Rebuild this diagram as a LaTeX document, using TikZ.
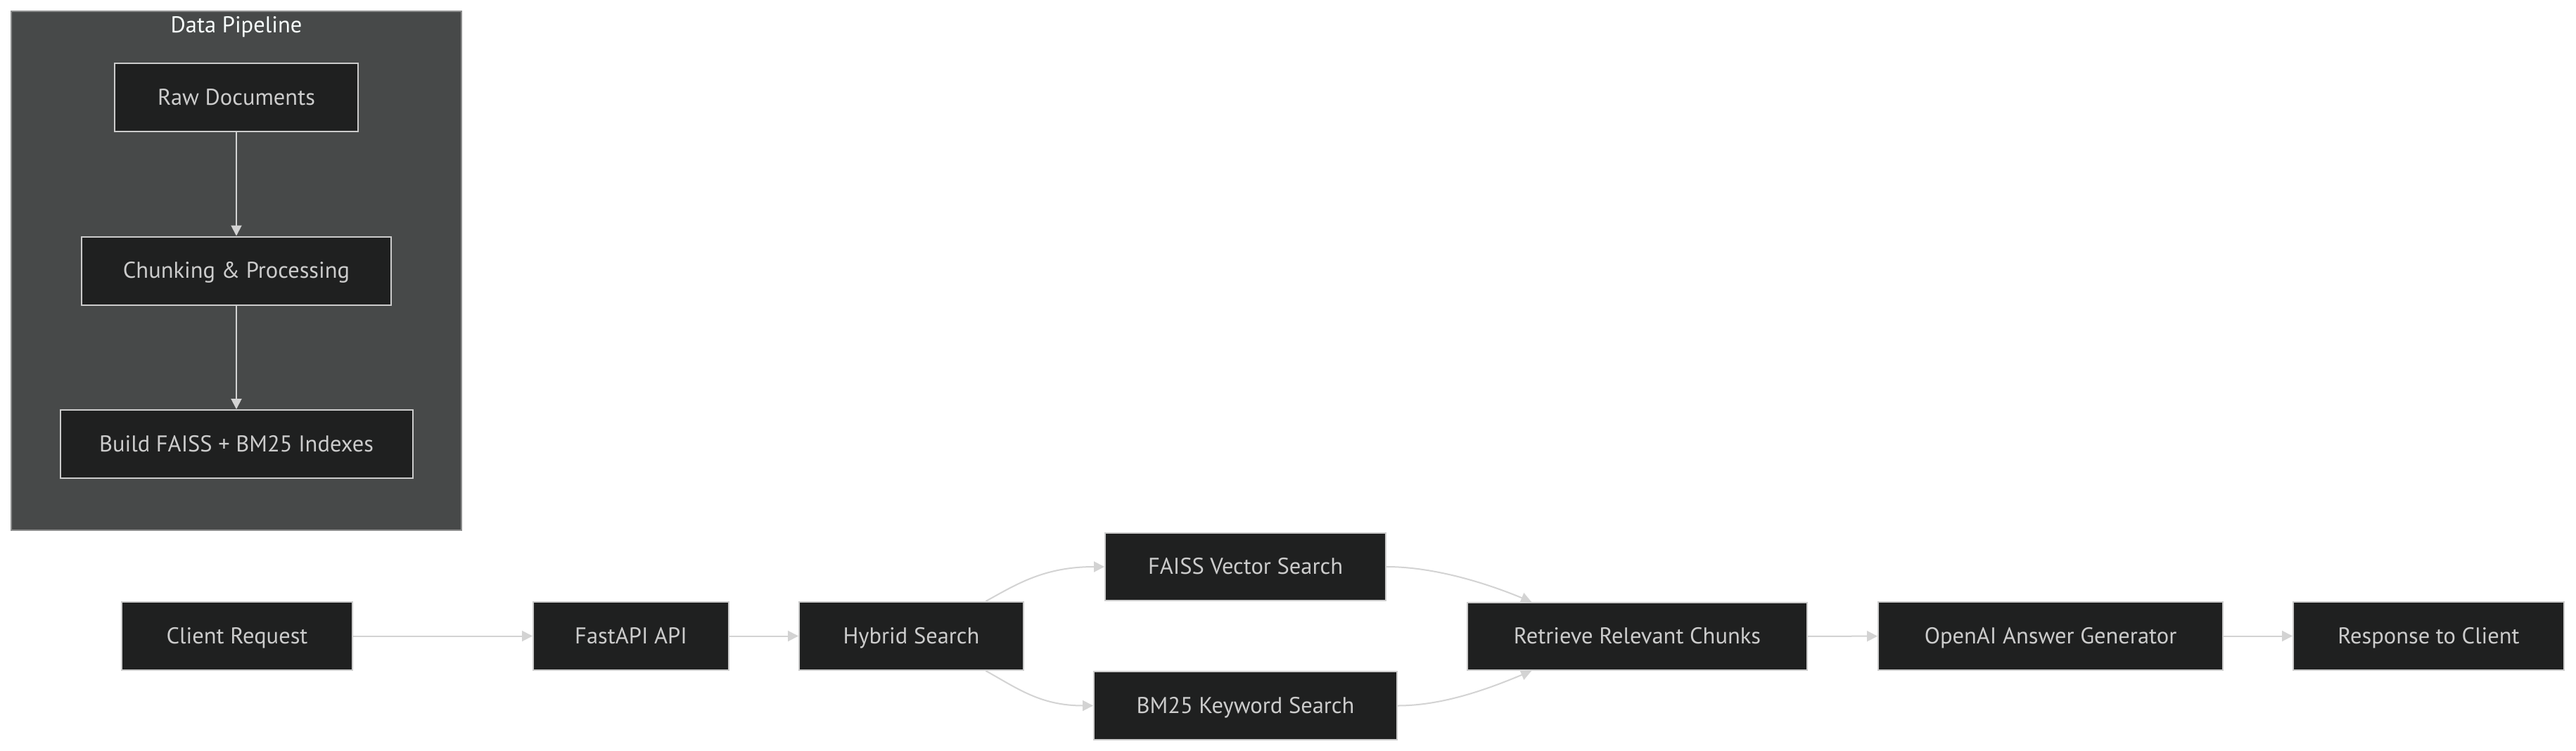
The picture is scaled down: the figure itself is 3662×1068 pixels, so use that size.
\documentclass[tikz,border=0pt]{standalone}
\usepackage{fontspec}
\setmainfont{PT Sans}
\usetikzlibrary{arrows.meta,calc}
\definecolor{nodefill}{HTML}{1F2020}
\definecolor{nodeborder}{HTML}{CCCCCC}
\definecolor{clusterfill}{HTML}{474949}
\definecolor{clusterborder}{HTML}{8C8D8D}
\definecolor{edgecol}{HTML}{D3D3D3}
\definecolor{txt}{HTML}{CCCCCC}
\definecolor{titletxt}{HTML}{F9FFFE}
\begin{document}
\begin{tikzpicture}[x=1pt,y=-1pt,
  box/.style={draw=nodeborder, fill=nodefill, line width=2pt, text=txt,
    font=\fontsize{32.5}{38}\selectfont, inner sep=0pt, minimum height=97pt,
    text height=23pt, text depth=2pt},
  flow/.style={draw=edgecol, line width=2pt, -{Triangle[length=15pt,width=15pt]}}]
\useasboundingbox[fill=white] (0,0) rectangle (3662,1068);
% cluster
\node[draw=clusterborder, fill=clusterfill, line width=2pt, inner sep=0pt,
  minimum width=640pt, minimum height=738pt] (cluster) at (336,385) {};
\node[text=titletxt, font=\fontsize{32.5}{38}\selectfont, inner sep=0pt] (ctitle) at (336,38) {Data Pipeline};
% pipeline nodes
\node[box, minimum width=346pt] (raw) at (336,138.5) {Raw Documents};
\node[box, minimum width=440pt] (chunk) at (336,385) {Chunking \& Processing};
\node[box, minimum width=501pt] (build) at (336,631.5) {Build FAISS + BM25 Indexes};
% bottom row
\node[box, minimum width=328pt] (client) at (337,904.5) {Client Request};
\node[box, minimum width=278pt] (fastapi) at (897,904.5) {FastAPI API};
\node[box, minimum width=319pt] (hybrid) at (1295.5,904.5) {Hybrid Search};
\node[box, minimum width=399pt, minimum height=96pt] (faiss) at (1770.5,806) {FAISS Vector Search};
\node[box, minimum width=431pt] (bm25) at (1770.5,1003.5) {BM25 Keyword Search};
\node[box, minimum width=483pt, minimum height=96pt] (retrieve) at (2327.5,905) {Retrieve Relevant Chunks};
\node[box, minimum width=490pt] (openai) at (2915,904.5) {OpenAI Answer Generator};
\node[box, minimum width=385pt] (response) at (3452.5,904.5) {Response to Client};
% edges
\draw[flow] (raw) -- (chunk);
\draw[flow] (chunk) -- (build);
\draw[flow] (client) -- (fastapi);
\draw[flow] (fastapi) -- (hybrid);
\coordinate (hybT) at ($(hybrid.north west)!0.83!(hybrid.north east)$);
\coordinate (hybB) at ($(hybrid.south west)!0.83!(hybrid.south east)$);
\coordinate (retT) at ($(retrieve.north west)!0.19!(retrieve.north east)$);
\coordinate (retB) at ($(retrieve.south west)!0.19!(retrieve.south east)$);
\draw[flow] (hybT) .. controls ($(hybT)+(45,-25)$) and ($(faiss.west)+(-85,0)$) .. (faiss.west);
\draw[flow] (hybB) .. controls ($(hybB)+(45,25)$) and ($(bm25.west)+(-75,0)$) .. (bm25.west);
\draw[flow] (faiss.east) .. controls ($(faiss.east)+(70,0)$) and ($(retT)+(-60,-25)$) .. (retT);
\draw[flow] (bm25.east) .. controls ($(bm25.east)+(65,0)$) and ($(retB)+(-60,25)$) .. (retB);
\draw[flow] (retrieve) -- (openai);
\draw[flow] (openai) -- (response);
\end{tikzpicture}
\end{document}
